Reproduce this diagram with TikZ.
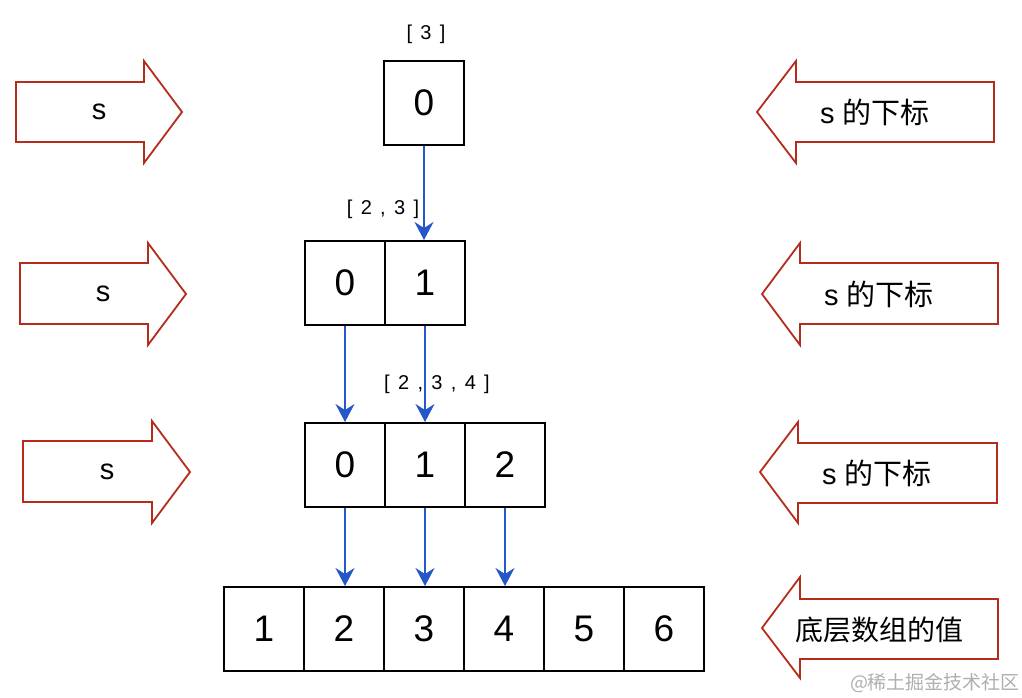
\documentclass[tikz,border=0pt]{standalone}
\usepackage{fontspec}
\setmainfont{Liberation Sans}
\newfontfamily\cjk{Noto Sans CJK SC}
\newfontfamily\labelfont[WordSpace=1.5]{Liberation Sans}
\usetikzlibrary{arrows.meta}
\definecolor{arrred}{RGB}{182,44,28}
\definecolor{linkblue}{RGB}{36,88,200}
\definecolor{wmgray}{RGB}{175,175,175}
\tikzset{
  cell/.style={draw=black, line width=2pt, minimum width=80pt, minimum height=84pt,
    inner sep=0pt, font=\fontsize{37}{40}\selectfont},
  link/.style={draw=linkblue, line width=1.8pt,
    -{Stealth[length=18pt,width=19pt,inset=6pt]}},
  blockarrow/.style={draw=arrred, line width=1.8pt, line join=miter},
  arrowtext/.style={font=\fontsize{29}{32}\selectfont, inner sep=0pt},
  rangelabel/.style={font=\labelfont\fontsize{20}{22}\selectfont, inner sep=0pt},
}
\begin{document}
\begin{tikzpicture}[x=1pt,y=-1pt]
\useasboundingbox (0,0) rectangle (1022,698);
\fill[white] (0,0) rectangle (1022,698);

% left block arrows (pointing right)
\draw[blockarrow] (16,82) -- (144,82) -- (144,61) -- (182,112) -- (144,163) -- (144,142) -- (16,142) -- cycle;
\node[arrowtext] (ls1) at (99,112) {s};
\draw[blockarrow] (20,263) -- (148,263) -- (148,243) -- (186,294) -- (148,345) -- (148,324) -- (20,324) -- cycle;
\node[arrowtext] (ls2) at (103,294) {s};
\draw[blockarrow] (23,441) -- (152,441) -- (152,421) -- (190,472) -- (152,523) -- (152,502) -- (23,502) -- cycle;
\node[arrowtext] (ls3) at (107,472) {s};

% right block arrows (pointing left)
\draw[blockarrow] (994,82) -- (796,82) -- (796,61) -- (757,112) -- (796,163) -- (796,142) -- (994,142) -- cycle;
\node[arrowtext] (rs1) at (875,112) {s {\cjk 的下标}};
\draw[blockarrow] (998,263) -- (800,263) -- (800,243) -- (762,294) -- (800,345) -- (800,324) -- (998,324) -- cycle;
\node[arrowtext] (rs2) at (879,294) {s {\cjk 的下标}};
\draw[blockarrow] (997,443) -- (798,443) -- (798,422) -- (760,472) -- (798,523) -- (798,503) -- (997,503) -- cycle;
\node[arrowtext] (rs3) at (877,473) {s {\cjk 的下标}};
\draw[blockarrow] (998,599) -- (800,599) -- (800,577) -- (762,628) -- (800,678) -- (800,659) -- (998,659) -- cycle;
\node[arrowtext, font=\fontsize{28}{32}\selectfont\cjk] (rs4) at (879,630) {底层数组的值};

% level 1
\node[cell] (a0) at (424,103) {0};
\node[rangelabel] (la) at (426,34) {[ 3 ]};

% level 2
\node[cell] (b0) at (345,283) {0};
\node[cell] (b1) at (425,283) {1};
\node[rangelabel] (lb) at (383,209) {[ 2 , 3 ]};

% level 3
\node[cell] (c0) at (345,465) {0};
\node[cell] (c1) at (425,465) {1};
\node[cell] (c2) at (505,465) {2};
\node[rangelabel] (lc) at (437,384) {[ 2 , 3 , 4 ]};

% bottom array
\node[cell] (d0) at (264,629) {1};
\node[cell] (d1) at (344,629) {2};
\node[cell] (d2) at (424,629) {3};
\node[cell] (d3) at (504,629) {4};
\node[cell] (d4) at (584,629) {5};
\node[cell] (d5) at (664,629) {6};

% links
\draw[link] (a0.south) -- (a0.south |- b1.north);
\draw[link] (b0.south) -- (b0.south |- c0.north);
\draw[link] (b1.south) -- (b1.south |- c1.north);
\draw[link] (c0.south) -- (c0.south |- d1.north);
\draw[link] (c1.south) -- (c1.south |- d2.north);
\draw[link] (c2.south) -- (c2.south |- d3.north);

% watermark
\node[font=\fontsize{19}{21}\selectfont\cjk, text=wmgray, inner sep=0pt] (wm) at (935,683) {@稀土掘金技术社区};
\end{tikzpicture}
\end{document}
